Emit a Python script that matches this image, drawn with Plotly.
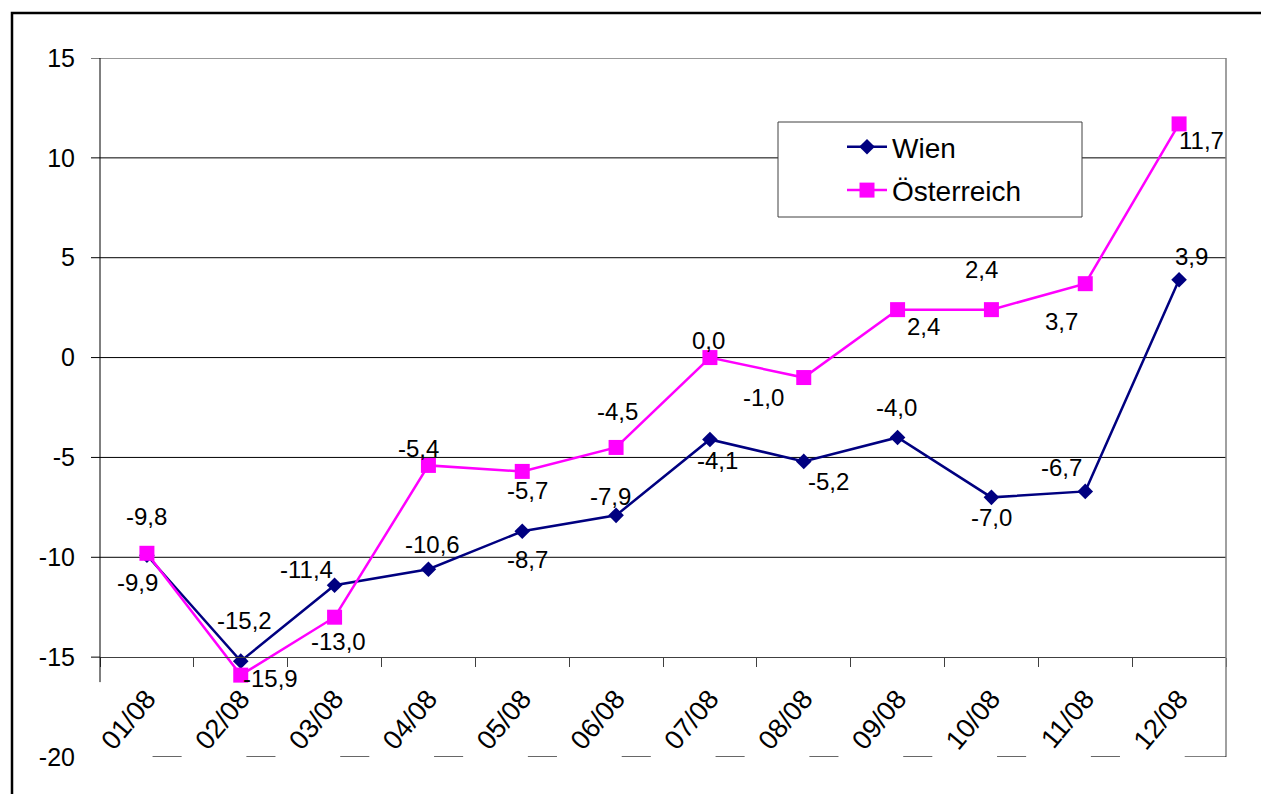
import plotly.graph_objects as go

# ---------------- data ----------------
months = ["01/08", "02/08", "03/08", "04/08", "05/08", "06/08",
          "07/08", "08/08", "09/08", "10/08", "11/08", "12/08"]
wien = [-9.9, -15.2, -11.4, -10.6, -8.7, -7.9, -4.1, -5.2, -4.0, -7.0, -6.7, 3.9]
oesterreich = [-9.8, -15.9, -13.0, -5.4, -5.7, -4.5, 0.0, -1.0, 2.4, 2.4, 3.7, 11.7]
y_ticks = [15, 10, 5, 0, -5, -10, -15, -20]

# ---------------- styling (label offsets in px) ----------------
wien_off = [(-9, -27), (4, 41), (-28, 16), (4, 25), (5, -28), (-6, 19),
            (8, -21), (25, -20), (-1, 30), (0, -20), (-24, 24), (12, 23)]
oe_off = [(0, 37), (30, -3), (4, -24), (-10, 17), (5, -19), (1, 36),
          (-1, 17), (-40, -20), (26, -17), (-10, 40), (-24, -38), (22, -17)]

FONT = "Liberation Sans, Arial, sans-serif"
NAVY = "#000080"
MAGENTA = "#FF00FF"

W, H = 1261, 794
ML, MR, MT, MB = 100, 35, 58, 37
PW, PH = W - ML - MR, H - MT - MB

fig = go.Figure()
fig.add_trace(go.Scatter(
    x=months, y=wien, name="Wien", mode="lines+markers",
    line=dict(color=NAVY, width=2.5),
    marker=dict(symbol="diamond", size=12, color=NAVY),
    legendgroup="a"))
fig.add_trace(go.Scatter(
    x=months, y=oesterreich, name="Österreich", mode="lines+markers",
    line=dict(color=MAGENTA, width=2.5),
    marker=dict(symbol="square", size=15, color=MAGENTA),
    legendgroup="b"))


def fmt(v):
    return f"{v:.1f}".replace(".", ",")


annotations = []
for series, offs in ((wien, wien_off), (oesterreich, oe_off)):
    for m, v, (dx, dy) in zip(months, series, offs):
        annotations.append(dict(
            x=m, y=v, xref="x", yref="y", text=fmt(v), showarrow=False,
            xshift=dx, yshift=dy, font=dict(family=FONT, size=24, color="black")))

shapes = []
# horizontal grid lines
for v in y_ticks:
    if -15 < v < 15:
        shapes.append(dict(type="line", xref="x domain", yref="y", x0=0, x1=1, y0=v, y1=v,
                           line=dict(color="black", width=1), layer="below"))
# top border at 15
shapes.append(dict(type="line", xref="x domain", yref="y", x0=0, x1=1, y0=15, y1=15,
                   line=dict(color="#333333", width=1)))
# right border
shapes.append(dict(type="line", xref="x domain", yref="y", x0=1, x1=1, y0=-20, y1=15,
                   line=dict(color="#808080", width=1.5)))
# y axis line (partly hidden under the category labels)
shapes.append(dict(type="line", xref="x domain", yref="y", x0=0, x1=0, y0=-16.25, y1=15,
                   line=dict(color="black", width=1)))
# y tick marks
for v in y_ticks:
    if v > -20:
        shapes.append(dict(type="line", xref="x domain", yref="y", x0=-9 / PW, x1=0, y0=v, y1=v,
                           line=dict(color="black", width=1)))
# bottom border segments (visible between the category labels)
n = len(months)
for i in range(n):
    x0 = i + 0.06
    x1 = i + 0.37 if i < n - 1 else n - 0.5
    shapes.append(dict(type="line", xref="x", yref="y", x0=x0, x1=x1, y0=-20, y1=-20,
                       line=dict(color="black", width=1.2)))
# legend box
shapes.append(dict(type="rect", xref="paper", yref="paper",
                   x0=(778 - ML) / PW, x1=(1082 - ML) / PW,
                   y0=(H - MB - 217) / PH, y1=(H - MB - 122) / PH,
                   line=dict(color="#404040", width=1), fillcolor="white", layer="above"))
# outer frame
shapes.append(dict(type="rect", xref="paper", yref="paper",
                   x0=(12 - ML) / PW, x1=1.2, y0=-0.3, y1=(H - MB - 13) / PH,
                   line=dict(color="black", width=2.5), fillcolor="rgba(0,0,0,0)"))

fig.update_layout(
    width=W, height=H,
    margin=dict(l=ML, r=MR, t=MT, b=MB, pad=0),
    paper_bgcolor="white", plot_bgcolor="white",
    font=dict(family=FONT, color="black"),
    showlegend=True,
    legend=dict(x=(842 - ML) / PW, y=(H - MB - 122) / PH, xanchor="left", yanchor="top",
                bgcolor="rgba(0,0,0,0)", borderwidth=0, itemwidth=40, tracegroupgap=4,
                font=dict(family=FONT, size=28, color="black")),
    xaxis=dict(type="category", range=[-0.5, n - 0.5], anchor="free", position=5 / 35,
               showline=True, linecolor="#404040", linewidth=1,
               ticks="outside", tickson="boundaries", ticklen=9, tickcolor="#404040",
               tickangle=-50, tickfont=dict(family=FONT, size=27, color="black"),
               showgrid=False, zeroline=False, ticklabelstandoff=14),
    yaxis=dict(range=[-20, 15], tickvals=y_ticks, ticktext=[str(v) for v in y_ticks],
               showgrid=False, zeroline=False, showline=False,
               ticks="outside", ticklen=9, tickcolor="rgba(0,0,0,0)",
               tickfont=dict(family=FONT, size=25, color="black"), ticklabelstandoff=10),
    shapes=shapes,
    annotations=annotations,
)

fig.write_html("out.html", config={"displayModeBar": False},
               post_script="document.body.style.margin='0';")
